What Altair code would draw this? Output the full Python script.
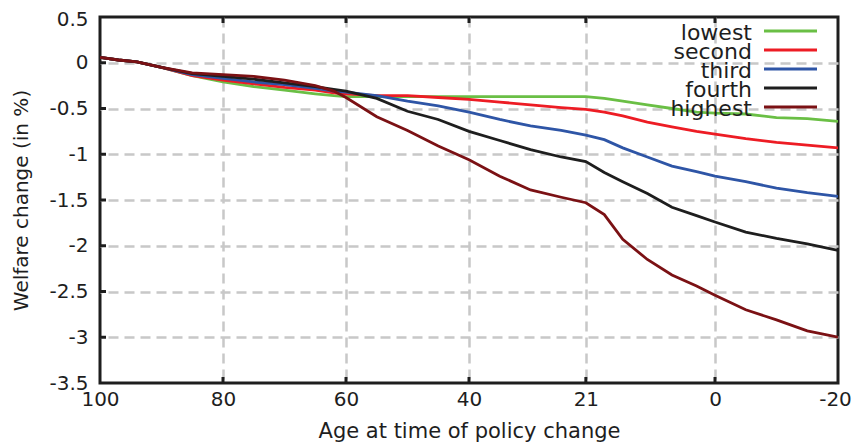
import altair as alt
import pandas as pd

# ---- data ----
ages = [100, 97, 94, 90, 85, 80, 75, 70, 65, 62, 60, 55, 50, 45, 40, 35, 30,
        25, 21, 18, 15, 11, 7, 3, 0, -5, -10, -15, -20]

lowest = [0.06, 0.03, 0.01, -0.05, -0.14, -0.21, -0.26, -0.30, -0.34, -0.36,
          -0.37, -0.37, -0.37, -0.37, -0.37, -0.37, -0.37, -0.37, -0.37, -0.39,
          -0.42, -0.46, -0.50, -0.54, -0.55, -0.56, -0.60, -0.61, -0.64]
second = [0.06, 0.03, 0.01, -0.05, -0.14, -0.19, -0.23, -0.27, -0.30, -0.33,
          -0.34, -0.36, -0.36, -0.38, -0.40, -0.43, -0.46, -0.49, -0.51, -0.54,
          -0.58, -0.65, -0.70, -0.75, -0.78, -0.83, -0.87, -0.90, -0.93]
third = [0.06, 0.03, 0.01, -0.05, -0.13, -0.17, -0.21, -0.24, -0.28, -0.31,
         -0.32, -0.36, -0.42, -0.47, -0.54, -0.62, -0.69, -0.74, -0.79, -0.84,
         -0.93, -1.03, -1.13, -1.19, -1.24, -1.30, -1.37, -1.42, -1.46]
fourth = [0.06, 0.03, 0.01, -0.05, -0.12, -0.15, -0.18, -0.22, -0.26, -0.29,
          -0.31, -0.39, -0.53, -0.62, -0.75, -0.85, -0.95, -1.03, -1.08, -1.20,
          -1.30, -1.43, -1.58, -1.67, -1.74, -1.85, -1.92, -1.98, -2.05]
highest = [0.06, 0.03, 0.01, -0.05, -0.11, -0.13, -0.15, -0.19, -0.25, -0.31,
           -0.38, -0.59, -0.74, -0.91, -1.06, -1.24, -1.39, -1.47, -1.53, -1.66,
           -1.93, -2.15, -2.32, -2.44, -2.54, -2.70, -2.81, -2.93, -3.00]

names = ["lowest", "second", "third", "fourth", "highest"]
colors = ["#6abf45", "#ed1c24", "#2e55a6", "#1e1e1e", "#7b1114"]

x_ticks = [100, 80, 60, 40, 21, 0, -20]
y_ticks = [0.5, 0, -0.5, -1, -1.5, -2, -2.5, -3, -3.5]

rows = []
for name, vals in zip(names, [lowest, second, third, fourth, highest]):
    for a, v in zip(ages, vals):
        rows.append({"age": a, "value": v, "group": name})
df = pd.DataFrame(rows)

W, H = 738, 366
FONT = "DejaVu Sans"
INK = "#1e1e1e"

xscale = alt.Scale(domain=[-20, 100], reverse=True, nice=False, zero=False)
yscale = alt.Scale(domain=[-3.5, 0.5], nice=False, zero=False)
color = alt.Color("group:N", scale=alt.Scale(domain=names, range=colors), legend=None)

xaxis = alt.Axis(values=x_ticks, labelExpr="'' + datum.value",
                 title="Age at time of policy change", labelFlush=False,
                 labelOffset={"condition": {"test": "datum.value == -20", "value": -3}, "value": 0},
                 titleFontSize=21, labelPadding=6, titlePadding=11,
                 gridOpacity={"condition": {"test": "datum.value == 100 || datum.value == -20", "value": 0}, "value": 1})
yaxis = alt.Axis(values=y_ticks, labelExpr="'' + datum.value",
                 title="Welfare change (in %)", labelFlush=False,
                 labelOffset={"condition": {"test": "datum.value == 0.5", "value": 2}, "value": 0},
                 titleFontSize=20, labelPadding=12, titlePadding=17,
                 gridOpacity={"condition": {"test": "datum.value == 0.5 || datum.value == -3.5", "value": 0}, "value": 1})

lines = alt.Chart(df).mark_line(strokeWidth=2.8, clip=True).encode(
    x=alt.X("age:Q", scale=xscale, axis=xaxis),
    y=alt.Y("value:Q", scale=yscale, axis=yaxis),
    color=color,
)

ytick_df = pd.DataFrame({"value": y_ticks[1:-1]})
xtick_df = pd.DataFrame({"age": x_ticks[1:-1]})

ytk = alt.Chart(ytick_df).mark_rule(strokeWidth=3, color=INK).encode(
    y=alt.Y("value:Q", scale=yscale, axis=yaxis),
    x=alt.value(0), x2=alt.value(6))
xtk_b = alt.Chart(xtick_df).mark_rule(strokeWidth=3, color=INK).encode(
    x=alt.X("age:Q", scale=xscale, axis=xaxis),
    y=alt.value(H), y2=alt.value(H - 6))
xtk_t = alt.Chart(xtick_df).mark_rule(strokeWidth=3, color=INK).encode(
    x=alt.X("age:Q", scale=xscale, axis=xaxis),
    y=alt.value(0), y2=alt.value(6))

base = alt.layer(lines, ytk, xtk_b, xtk_t)

leg_df = pd.DataFrame({"group": names})
leg_y = alt.Y("group:N", sort=names,
              scale=alt.Scale(type="point", range=[14, 90], padding=0), axis=None)
leg_text = alt.Chart(leg_df).mark_text(align="right", baseline="alphabetic", dy=9,
                                       fontSize=22, font=FONT, color=INK).encode(
    x=alt.value(652), y=leg_y, text="group:N")
leg_rule = alt.Chart(leg_df).mark_rule(strokeWidth=2.8).encode(
    x=alt.value(664), x2=alt.value(717), y=leg_y, color=color)
legend = alt.layer(leg_text, leg_rule)

chart = alt.layer(base, legend).resolve_scale(y="independent").properties(
    width=W, height=H,
    padding={"left": 92, "top": 9, "right": 15, "bottom": 62},
    autosize="none",
    background="white",
).configure_view(
    stroke=INK, strokeWidth=3
).configure_axis(
    labelFont=FONT, labelFontSize=20, labelColor=INK,
    titleFont=FONT, titleFontWeight="normal", titleColor=INK,
    grid=True, gridColor="#c8c8c8", gridDash=[10, 6], gridWidth=2.5,
    ticks=False, domain=False,
)

chart.save("out.html", embed_options={"renderer": "svg", "actions": False})
